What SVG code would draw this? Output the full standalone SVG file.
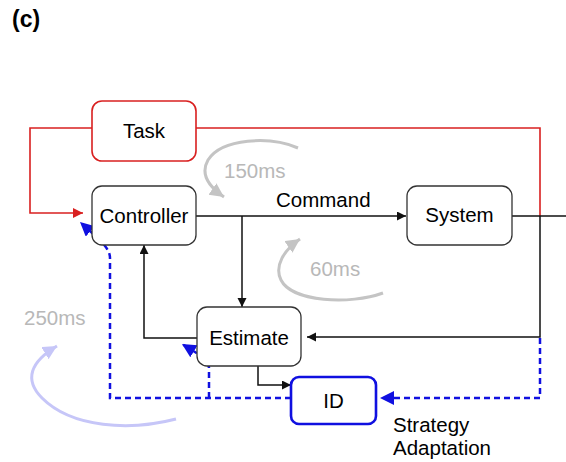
<svg xmlns="http://www.w3.org/2000/svg" width="566" height="462" viewBox="0 0 566 462">
<style>
text{font-family:"Liberation Sans",Arial,sans-serif;font-size:20.5px;fill:#000}
.box{fill:#fff;stroke:#333;stroke-width:1.3}
.red{fill:#fff;stroke:#d92020;stroke-width:1.6}
.blue{fill:#fff;stroke:#1010e0;stroke-width:2.6}
.k{fill:none;stroke:#111;stroke-width:1.5}
.r{fill:none;stroke:#d92020;stroke-width:1.6}
.d{fill:none;stroke:#1010e0;stroke-width:2.5;stroke-dasharray:6 4}
.g{fill:none;stroke:#c4c4c4;stroke-width:3}
.l{fill:none;stroke:#c6c6f8;stroke-width:3}
.gt{fill:#b8b8b8}
</style>
<defs>
<marker id="ak" markerUnits="userSpaceOnUse" markerWidth="10" markerHeight="10" refX="9" refY="4.5" orient="auto"><path d="M0,0L9,4.5L0,9z" fill="#111"/></marker>
<marker id="ar" markerUnits="userSpaceOnUse" markerWidth="11" markerHeight="11" refX="10" refY="5" orient="auto"><path d="M0,0L10,5L0,10z" fill="#d92020"/></marker>
<marker id="ab" markerUnits="userSpaceOnUse" markerWidth="15" markerHeight="15" refX="14" refY="7" orient="auto"><path d="M0,0L14,7L0,14z" fill="#1010e0"/></marker>
<marker id="ag" markerUnits="userSpaceOnUse" markerWidth="16" markerHeight="16" refX="14" refY="7" orient="auto"><path d="M0,0L14,7L0,14z" fill="#c4c4c4"/></marker>
<marker id="al" markerUnits="userSpaceOnUse" markerWidth="16" markerHeight="16" refX="14" refY="7" orient="auto"><path d="M0,0L14,7L0,14z" fill="#c6c6f8"/></marker>
</defs>
<text x="12" y="27" style="font-weight:bold;font-size:23px">(c)</text>
<g id="connectors">
<path class="r" d="M92,128H30V213H83" marker-end="url(#ar)"/>
<path class="r" d="M196,128H540V216"/>
<path class="k" d="M196,216H406" marker-end="url(#ak)"/>
<path class="k" d="M512,216H566"/>
<path class="k" d="M242,216V307" marker-end="url(#ak)"/>
<path class="k" d="M540,216V337H307" marker-end="url(#ak)"/>
<path class="k" d="M197,338H144V245" marker-end="url(#ak)"/>
<path class="k" d="M258,366V385H291" marker-end="url(#ak)"/>
<path class="d" d="M540,338V398H380" marker-end="url(#ab)"/>
<path class="d" d="M291,398H110V258C110,248 100,240 80,222" marker-end="url(#ab)"/>
<path class="d" d="M209,398V368C209,360 200,355 182,344" marker-end="url(#ab)"/>
<path class="g" d="M298,148C270,136 222,138 208,160C200,174 208,186 224,197" marker-end="url(#ag)"/>
<path class="g" d="M383,293C350,305 292,302 281,280C274,266 284,250 300,239" marker-end="url(#ag)"/>
<path class="l" d="M176,419C130,431 72,428 42,398C24,380 30,362 57,346" marker-end="url(#al)"/>
</g>
<text x="276" y="207">Command</text>
<text class="gt" x="224" y="178">150ms</text>
<text class="gt" x="310" y="276">60ms</text>
<text class="gt" x="24" y="325">250ms</text>
<text x="393" y="432">Strategy</text>
<text x="393" y="455">Adaptation</text>
<g id="task"><rect class="red" x="92" y="101" width="104" height="60" rx="10"/><text x="144" y="138" text-anchor="middle">Task</text></g>
<g id="controller"><rect class="box" x="92" y="186" width="104" height="59" rx="10"/><text x="144" y="223" text-anchor="middle">Controller</text></g>
<g id="system"><rect class="box" x="407" y="186" width="105" height="59" rx="10"/><text x="459.5" y="222" text-anchor="middle">System</text></g>
<g id="estimate"><rect class="box" x="197" y="307" width="104" height="59" rx="10"/><text x="249" y="345" text-anchor="middle">Estimate</text></g>
<g id="id"><rect class="blue" x="291" y="377" width="85" height="47" rx="8"/><text x="333.5" y="408" text-anchor="middle">ID</text></g>
</svg>
